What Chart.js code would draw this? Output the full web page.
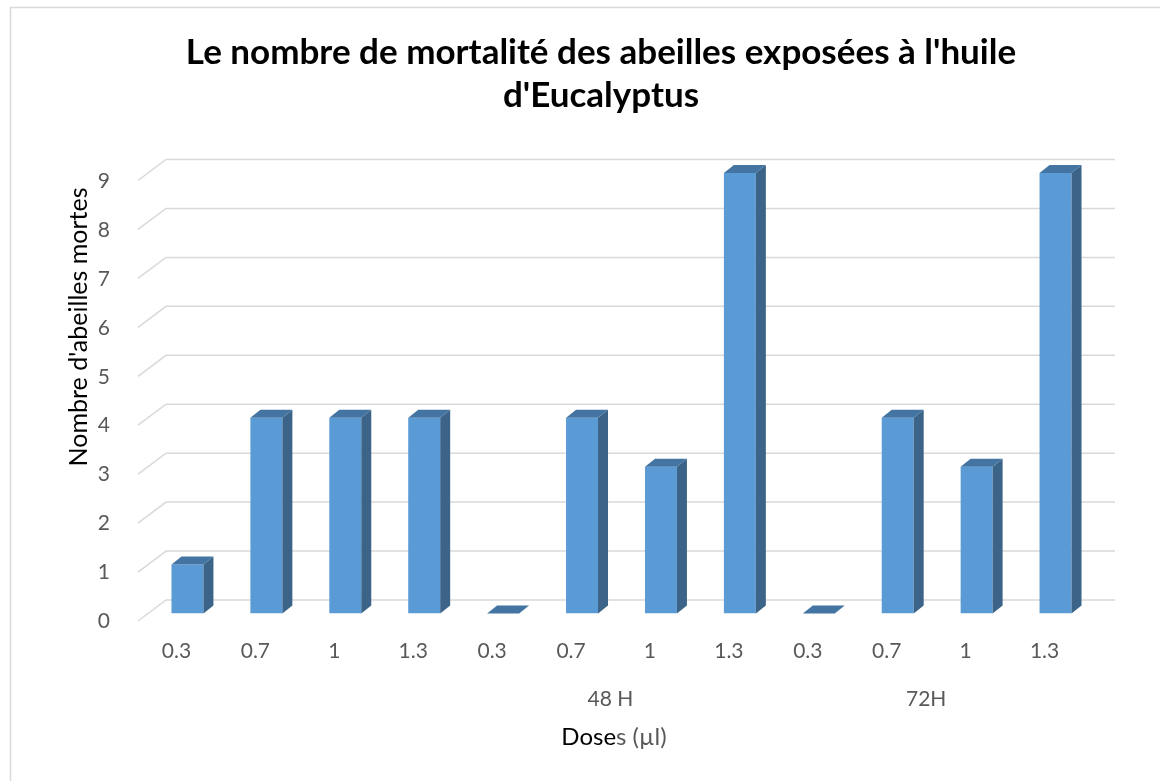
<!DOCTYPE html>
<html>
<head>
<meta charset="utf-8">
<script src="https://cdn.jsdelivr.net/npm/chart.js@4.4.0/dist/chart.umd.min.js"></script>
<style>
    html, body { margin: 0; padding: 0; background: #fff; }
    #wrap { width: 1160px; height: 781px; }
</style>
</head>
<body>
<div id="wrap"><canvas id="barChart" width="1160" height="781"></canvas></div>
<script>
// data
const doses = ['0.3', '0.7', '1', '1.3', '0.3', '0.7', '1', '1.3', '0.3', '0.7', '1', '1.3'];
const groupLabels = ['', '48 H', '72H'];
const deadBees = [1, 4, 4, 4, 0, 4, 3, 9, 0, 4, 3, 9];
const chartTitle = ["Le nombre de mortalité des abeilles exposées à l'huile", "d'Eucalyptus"];
const yTitle = "Nombre d'abeilles mortes";
const xTitleDark = 'Dose';
const xTitleGrey = 's (µl)';

const FONT = 'Lato';
const GREY = '#595959';
const GRID = '#D9D9D9';

// fake 3d offsets (relative to the front face of the bars)
const FRONT = { dx: -10, dy: 7.5 };
const BACK = { dx: 18, dy: -13.5 };
const BAR_DEPTH = { dx: 10, dy: -8 };

const fake3d = {
    id: 'fake3d',
    beforeDraw(chart) {
        const ctx = chart.ctx;
        ctx.save();
        ctx.fillStyle = '#fff';
        ctx.fillRect(0, 0, chart.width, chart.height);
        ctx.strokeStyle = GRID;
        ctx.lineWidth = 1.5;
        ctx.strokeRect(10.5, 7.5, chart.width + 20, chart.height + 20);
        ctx.restore();
    },
    beforeDatasetsDraw(chart) {
        const { ctx, chartArea, scales: { y } } = chart;
        ctx.save();
        ctx.strokeStyle = GRID;
        ctx.lineWidth = 1.5;
        y.ticks.forEach(t => {
            const py = y.getPixelForValue(t.value);
            ctx.beginPath();
            ctx.moveTo(chartArea.left + FRONT.dx, py + FRONT.dy);
            ctx.lineTo(chartArea.left + BACK.dx, py + BACK.dy);
            ctx.lineTo(chartArea.right + 20, py + BACK.dy);
            ctx.stroke();
        });
        ctx.restore();
    },
    afterDatasetsDraw(chart) {
        const ctx = chart.ctx;
        const meta = chart.getDatasetMeta(0);
        ctx.save();
        meta.data.forEach(bar => {
            const { x, y, base, width } = bar.getProps(['x', 'y', 'base', 'width'], true);
            const l = x - width / 2, r = x + width / 2;
            // side face
            if (base - y > 0.5) {
                ctx.fillStyle = '#3B6488';
                ctx.beginPath();
                ctx.moveTo(r, y);
                ctx.lineTo(r + BAR_DEPTH.dx, y + BAR_DEPTH.dy);
                ctx.lineTo(r + BAR_DEPTH.dx, base + BAR_DEPTH.dy);
                ctx.lineTo(r, base);
                ctx.closePath();
                ctx.fill();
            }
            // top face
            ctx.fillStyle = '#4474A2';
            ctx.beginPath();
            ctx.moveTo(l, y);
            ctx.lineTo(l + BAR_DEPTH.dx, y + BAR_DEPTH.dy);
            ctx.lineTo(r + BAR_DEPTH.dx, y + BAR_DEPTH.dy);
            ctx.lineTo(r, y);
            ctx.closePath();
            ctx.fill();
        });
        ctx.restore();
    },
    afterDraw(chart) {
        const ctx = chart.ctx;
        ctx.save();
        ctx.textAlign = 'center';
        ctx.textBaseline = 'middle';
        // main title
        ctx.fillStyle = '#000';
        ctx.font = 'bold 35px ' + FONT;
        ctx.fillText(chartTitle[0], 601, 53);
        ctx.fillText(chartTitle[1], 601, 96);
        // y axis title
        ctx.font = '25px ' + FONT;
        ctx.save();
        ctx.translate(79, 327);
        ctx.rotate(-Math.PI / 2);
        ctx.fillText(yTitle, 0, 0);
        ctx.restore();
        // x axis title, two colours
        ctx.font = '24px ' + FONT;
        ctx.textAlign = 'left';
        const w1 = ctx.measureText(xTitleDark).width;
        const w2 = ctx.measureText(xTitleGrey).width;
        const x0 = 614 - (w1 + w2) / 2;
        ctx.fillStyle = '#000';
        ctx.fillText(xTitleDark, x0, 737);
        ctx.fillStyle = GREY;
        ctx.fillText(xTitleGrey, x0 + w1, 737);
        ctx.restore();
    }
};

const ctx = document.getElementById('barChart').getContext('2d');
new Chart(ctx, {
    type: 'bar',
    data: {
        labels: doses,
        datasets: [{
            data: deadBees,
            backgroundColor: '#5B9BD5',
            borderWidth: 0,
            barPercentage: 0.405,
            categoryPercentage: 1
        }]
    },
    options: {
        responsive: false,
        animation: false,
        layout: { padding: { left: 0, right: 65, top: 173, bottom: 67.5 } },
        plugins: {
            legend: { display: false },
            title: { display: false },
            tooltip: { enabled: false }
        },
        scales: {
            x: {
                grid: { display: false },
                border: { display: false },
                ticks: {
                    color: GREY,
                    font: { family: FONT, size: 21 },
                    padding: 17,
                    labelOffset: -11,
                    autoSkip: false,
                    maxRotation: 0
                },
                afterFit(scale) { scale.height = 60; }
            },
            x2: {
                type: 'category',
                labels: groupLabels,
                position: 'bottom',
                offset: true,
                grid: { display: false },
                border: { display: false },
                ticks: {
                    color: GREY,
                    font: { family: FONT, size: 21 },
                    padding: 5,
                    labelOffset: -11,
                    autoSkip: false,
                    maxRotation: 0
                },
                afterFit(scale) { scale.height = 40; }
            },
            y: {
                min: 0,
                max: 9,
                grid: { display: false },
                border: { display: false },
                ticks: {
                    stepSize: 1,
                    color: GREY,
                    font: { family: FONT, size: 21 },
                    padding: 30,
                    labelOffset: 8
                },
                afterFit(scale) { scale.width = 148; }
            }
        }
    },
    plugins: [fake3d]
});
</script>
</body>
</html>
